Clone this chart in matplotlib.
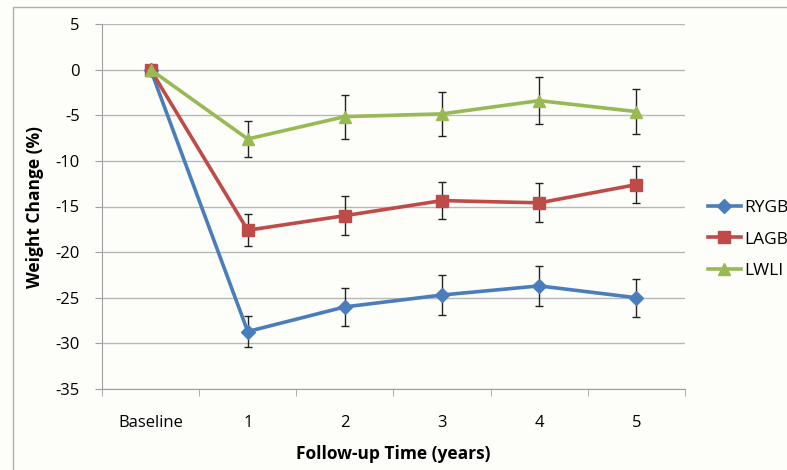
import matplotlib
matplotlib.use("Agg")
import matplotlib.pyplot as plt
import numpy as np
from matplotlib.patches import Rectangle

categories = ["Baseline", "1", "2", "3", "4", "5"]
series_names = ["RYGB", "LAGB", "LWLI"]
rygb = [0, -28.7, -26.0, -24.7, -23.7, -25.0]
rygb_err = [0, 1.65, 2.05, 2.15, 2.2, 2.1]
lagb = [0, -17.6, -16.0, -14.35, -14.6, -12.6]
lagb_err = [0, 1.75, 2.1, 2.05, 2.15, 2.05]
lwli = [0, -7.6, -5.15, -4.85, -3.4, -4.6]
lwli_err = [0, 1.95, 2.4, 2.45, 2.6, 2.5]
y_ticks = [5, 0, -5, -10, -15, -20, -25, -30, -35]

plt.rcParams['font.family'] = ['Open Sans', 'DejaVu Sans']

bg = "#fdfdfa"
fig = plt.figure(figsize=(7.87, 4.70), dpi=100, facecolor=bg)
fig.patches.append(Rectangle((13/787, -0.05), 1.0, 1.05 - 7/470, transform=fig.transFigure,
                             fill=False, edgecolor="#b0b0b0", linewidth=1.0, zorder=0))
ax = fig.add_axes([102/787, 81/470, 583/787, 365/470])
ax.set_facecolor(bg)

x = np.arange(len(categories))
styles = [
    (rygb, rygb_err, "#4a7ebb", "D", 7),
    (lagb, lagb_err, "#be4b48", "s", 8),
    (lwli, lwli_err, "#98b954", "^", 9),
]
handles = []
for (vals, errs, col, mk, ms), name in zip(styles, series_names):
    ax.errorbar(x, vals, yerr=errs, fmt="none", ecolor="#222222", elinewidth=1.0,
                capsize=3, capthick=1.0, zorder=3)
    h, = ax.plot(x, vals, color=col, marker=mk, markersize=ms, linewidth=2.6,
                 markeredgecolor=col, label=name, zorder=4)
    handles.append(h)

ax.set_xlim(-0.5, len(categories) - 0.5)
ax.set_ylim(-35, 5)
ax.set_yticks(y_ticks)
ax.set_yticklabels([str(v) for v in y_ticks], fontsize=12)
ax.set_xticks(x)
ax.set_xticklabels(categories, fontsize=12)
ax.tick_params(axis="x", length=0, pad=19)
ax.tick_params(axis="y", length=5, color="#a0a0a0", pad=11)
ax.set_xticks(np.arange(-0.5, len(categories), 1.0), minor=True)
ax.tick_params(axis="x", which="minor", length=5, color="#a0a0a0")
ax.grid(axis="y", color="#b8b8b8", linewidth=1.0)
ax.set_axisbelow(True)
for s in ["top", "right"]:
    ax.spines[s].set_visible(False)
for s in ["left", "bottom"]:
    ax.spines[s].set_color("#a0a0a0")

ax.set_ylabel("Weight Change (%)", fontsize=12.5, fontweight="bold", labelpad=8)
ax.set_xlabel("Follow-up Time (years)", fontsize=12.5, fontweight="bold", labelpad=10)

fig.legend(handles=handles, labels=series_names, loc="upper left",
           bbox_to_anchor=(692/787, 1 - 184/470), frameon=False, fontsize=12.5,
           handlelength=1.9, labelspacing=0.9, handletextpad=0.2)

fig.savefig("out.png", dpi=100, facecolor=bg)
